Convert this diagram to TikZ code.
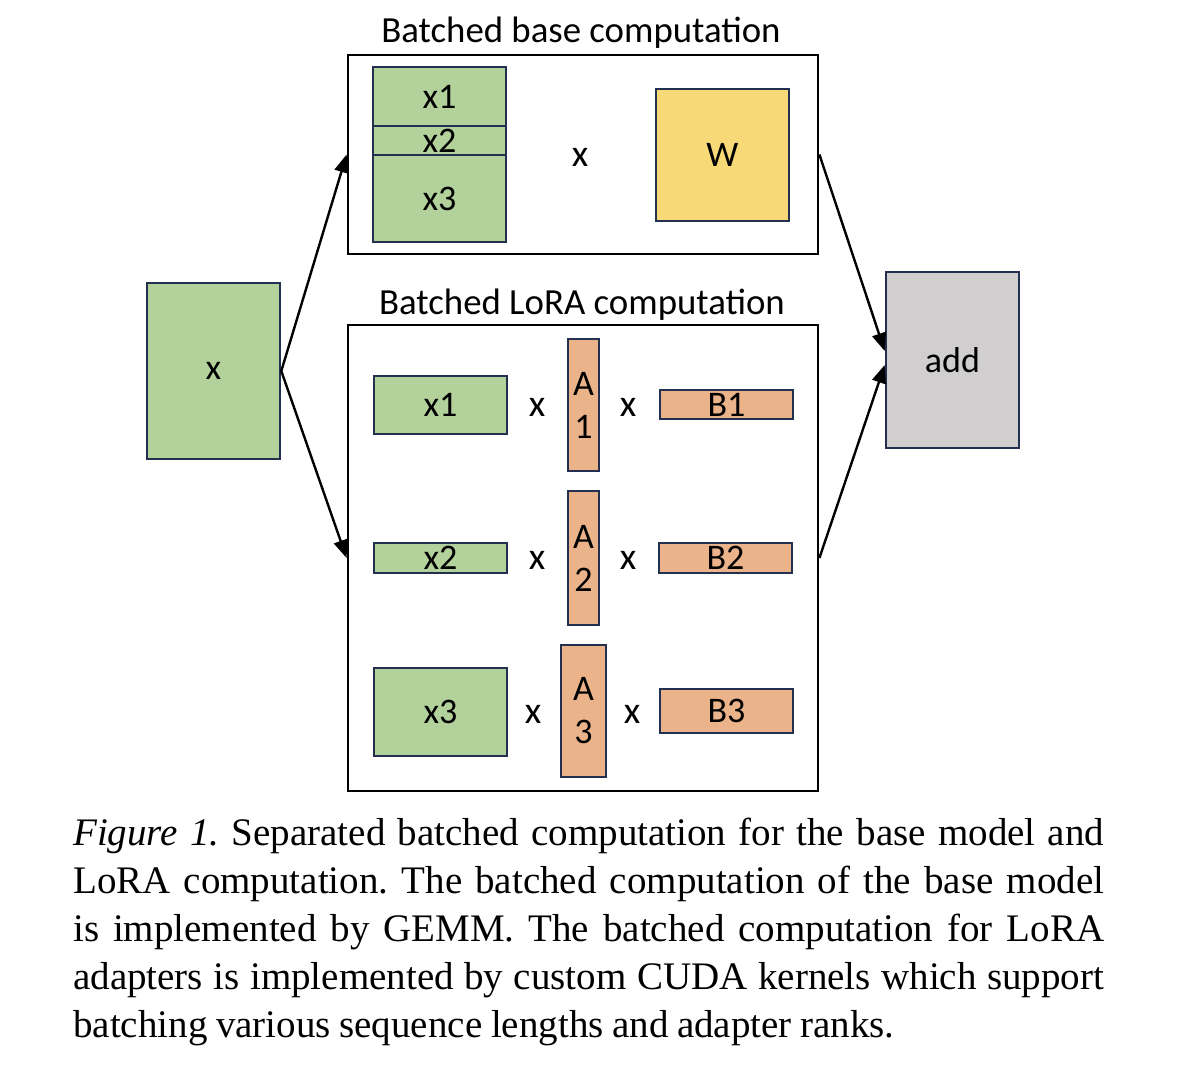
\documentclass[tikz,border=0pt]{standalone}
\usepackage{fontspec}
\setmainfont{Liberation Serif}
\newfontfamily\diagfont{Carlito}
\usepackage{xcolor}
\usetikzlibrary{positioning, arrows.meta}

\definecolor{grnfill}{RGB}{179,209,154}
\definecolor{orgfill}{RGB}{234,179,138}
\definecolor{ylwfill}{RGB}{247,217,120}
\definecolor{gryfill}{RGB}{208,206,207}
\definecolor{edgeblue}{RGB}{36,48,80}

\begin{document}
\begin{tikzpicture}[
    x=1pt, y=-1pt,
    mat/.style={rectangle, draw=edgeblue, line width=2.6pt, inner sep=0pt, align=center, font=\diagfont\fontsize{36}{43}\selectfont},
    green/.style={mat, fill=grnfill},
    orange/.style={mat, fill=orgfill},
    frame/.style={rectangle, draw=black, line width=2.8pt, inner sep=0pt},
    title/.style={font=\diagfont\fontsize{36.8}{40}\selectfont, inner sep=0pt},
    times/.style={font=\diagfont\fontsize{38}{40}\selectfont, inner sep=0pt},
    arrow/.style={line width=2.4pt, -{Triangle[length=18pt, width=14pt]}}
]
\useasboundingbox (0,0) rectangle (1186,1072);

% Frames
\node[frame, minimum width=470, minimum height=199] (basebox) at (583,154.5) {};
\node[frame, minimum width=470, minimum height=466] (lorabox) at (583,558) {};
\node[title] at (581,33) {Batched base computation};
\node[title] at (582,305) {Batched LoRA computation};

% Input and output
\node[green, minimum width=133, minimum height=176] (inp) at (213.5,371) {x};
\node[mat, fill=gryfill, minimum width=133, minimum height=176] (addbox) at (952.5,360) {add};

% Base computation
\node[green, minimum width=133, minimum height=59] (bx1) at (439.5,96.5) {x1};
\node[green, minimum width=133, minimum height=29] (bx2) at (439.5,140.5) {x2};
\node[green, minimum width=133, minimum height=87] (bx3) at (439.5,198.5) {x3};
\node[times] (bmul) at (580,157) {x};
\node[mat, fill=ylwfill, minimum width=133, minimum height=132] (wmat) at (722.5,155) {W};

% LoRA computation
\node[green, minimum width=133, minimum height=58] (lx1) at (440.5,405) {x1};
\node[times] (m11) at (537,407) {x};
\node[orange, minimum width=31, minimum height=132] (a1) at (583.5,405) {A\\1};
\node[times] (m12) at (628,407) {x};
\node[orange, minimum width=133, minimum height=29] (b1) at (726.5,404.5) {B1};

\node[green, minimum width=133, minimum height=30] (lx2) at (440.5,558) {x2};
\node[times] (m21) at (537,560) {x};
\node[orange, minimum width=31, minimum height=134] (a2) at (583.5,558) {A\\2};
\node[times] (m22) at (628,560) {x};
\node[orange, minimum width=133, minimum height=30] (b2) at (725.5,558) {B2};

\node[green, minimum width=133, minimum height=88] (lx3) at (440.5,712) {x3};
\node[times] (m31) at (533,714) {x};
\node[orange, minimum width=45, minimum height=132] (a3) at (583.5,711) {A\\3};
\node[times] (m32) at (632,714) {x};
\node[orange, minimum width=133, minimum height=44] (b3) at (726.5,711) {B3};

% Arrows
\draw[arrow] (inp.east) -- (basebox.west);
\draw[arrow] (inp.east) -- (lorabox.west);
\draw[arrow] (basebox.east) -- ([yshift=9pt]addbox.west);
\draw[arrow] (lorabox.east) -- ([yshift=-5pt]addbox.west);

% Caption
\node[anchor=north west, inner sep=0pt, text width=1031pt, align=justify, font=\fontsize{39}{48}\selectfont\frenchspacing] (caption) at (73,818)
  {\hyphenpenalty=10000 \spaceskip=0.22em plus 0.15em minus 0.1em\relax \textit{Figure 1.} Separated batched computation for the base model and LoRA computation. The batched computation of the base model is implemented by GEMM. The batched computation for LoRA adapters is implemented by custom CUDA kernels which support batching various sequence lengths and adapter ranks.};
\end{tikzpicture}
\end{document}
